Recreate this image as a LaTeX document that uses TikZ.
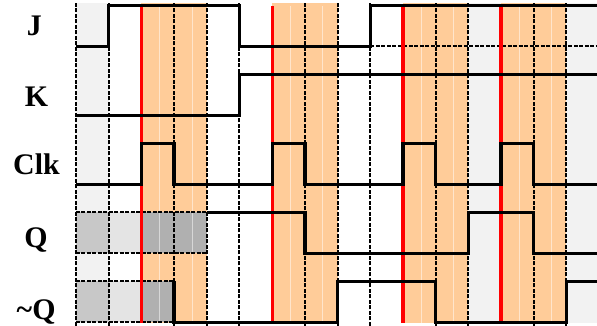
\documentclass[tikz,border=0pt]{standalone}
\usepackage{fontspec}
\setmainfont{Liberation Serif}
\definecolor{peach}{HTML}{FFCC99}
\definecolor{lightgr}{HTML}{F2F2F2}
\definecolor{xmid}{HTML}{C8C8C8}
\definecolor{xlight}{HTML}{E4E4E4}
\definecolor{xdark}{HTML}{B0B0B0}

\begin{document}
\begin{tikzpicture}[x=32.7bp, y=1bp,
  sig/.style={line width=3.3bp},
  gridln/.style={line width=2bp, dash pattern=on 4bp off 1.5bp},
  clkline/.style={red, line width=3.3bp},
  faint/.style={white, opacity=0.5, line width=0.8bp},
  lbl/.style={font=\fontsize{30}{36}\selectfont\bfseries, anchor=base}]
  \useasboundingbox (-2.3242,0) rectangle (15.933,326);
  \fill[lightgr] (0,3) rectangle (1,323);
  \fill[lightgr] (12,3) rectangle (13,323);
  \fill[lightgr] (15,3) rectangle (16,323);
  \foreach \a in {2,6,10,13} \fill[peach] (\a,3) rectangle ++(2,320);
  \fill[xmid] (0,72.5) rectangle (1,113.5);
  \fill[xlight] (1,72.5) rectangle (2,113.5);
  \fill[xdark] (2,72.5) rectangle (4,113.5);
  \fill[xmid] (0,3.5) rectangle (1,44.5);
  \fill[xlight] (1,3.5) rectangle (2,44.5);
  \fill[xdark] (2,3.5) rectangle (3,44.5);
  \foreach \a in {2.55,3.55,6.55,7.55,10.55,11.55,13.55,14.55}
    \draw[faint] (\a,3) -- (\a,320);
  \foreach \a in {0,1,3,4,5,7,8,9,11,12,14,15}
    \draw[gridln] (\a,0) -- (\a,323);
  \draw[gridln] (0,113.5) -- (4,113.5) (0,72.5) -- (4,72.5)
    (0,44.5) -- (3,44.5) (0,3.5) -- (3,3.5) (9,279.5) -- (16,279.5);
  \foreach \a in {2,6,10,13} \draw[clkline] (\a,3) -- (\a,320);

  \draw[sig] (0,279.5) -| (1,320.5) -| (5,279.5) -| (9,320.5) -- (16,320.5);
  \draw[sig] (0,210.5) -| (5,251.5) -- (16,251.5);
  \draw[sig] (0,141.5) -| (2,182.5) -| (3,141.5) -| (6,182.5) -| (7,141.5)
    -| (10,182.5) -| (11,141.5) -| (13,182.5) -| (14,141.5) -- (16,141.5);
  \draw[sig] (4,113.5) -| (7,72.5) -| (12,113.5) -| (14,72.5) -- (16,72.5);
  \draw[sig] (3,44.5) -- (3,3.5) -| (8,44.5) -| (11,3.5) -| (15,44.5) -- (16,44.5);

  \node[lbl] (J) at (-1.27,290) {J};
  \node[lbl] (K) at (-1.21,219) {K};
  \node[lbl] (clk) at (-1.21,151) {Clk};
  \node[lbl] (Q) at (-1.22,78.5) {Q};
  \node[lbl] (nQ) at (-1.22,6) {\textasciitilde Q};
\end{tikzpicture}
\end{document}
